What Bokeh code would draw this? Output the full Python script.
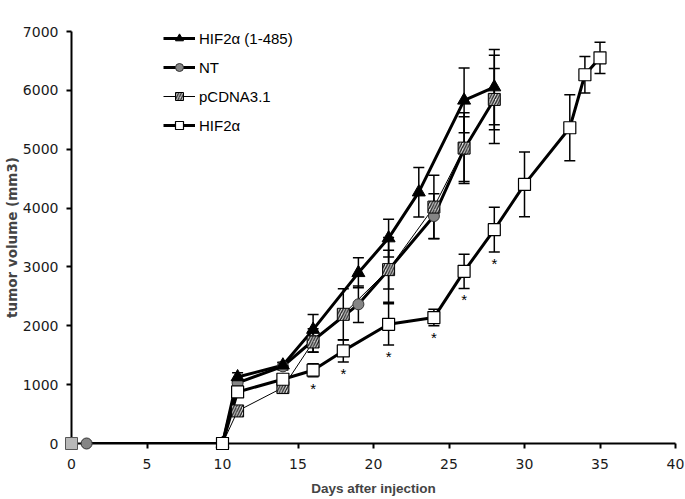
from bokeh.plotting import figure
from bokeh.models import (Range1d, FixedTicker, Whisker, TeeHead, ColumnDataSource,
                          Legend, LegendItem)
from bokeh.core.properties import value
from bokeh.embed import file_html
from bokeh.resources import INLINE

# ---- data ----
hif485_days = [10, 11, 14, 16, 19, 21, 23, 26, 28]
hif485_vol = [0, 1130, 1330, 1935, 2900, 3490, 4270, 5830, 6055]
hif485_err = [0, 70, 50, 255, 255, 320, 420, 550, 640]

nt_days = [1, 10, 11, 14, 16, 19, 21, 24, 26, 28]
nt_vol = [0, 0, 1030, 1310, 1750, 2365, 2950, 3864, 5000, 5850]
nt_err = [0, 0, 60, 60, 200, 310, 550, 380, 550, 520]

pcdna_days = [10, 11, 14, 16, 18, 21, 24, 26, 28]
pcdna_vol = [0, 553, 950, 1725, 2195, 2954, 4017, 5019, 5846]
pcdna_err = [0, 60, 95, 170, 435, 330, 540, 600, 750]

hif_days = [10, 11, 14, 16, 18, 21, 24, 26, 28, 30, 33, 34, 35]
hif_vol = [0, 876, 1092, 1245, 1573, 2025, 2139, 2925, 3633, 4402, 5365, 6265, 6553]
hif_err = [0, 0, 60, 110, 190, 350, 140, 290, 380, 550, 560, 310, 265]

star_days = [16, 18, 21, 24, 26, 28]

origin_days = [0]
origin_vol = [0]

x_ticks = [0, 5, 10, 15, 20, 25, 30, 35, 40]
y_ticks = [0, 1000, 2000, 3000, 4000, 5000, 6000, 7000]

# ---- figure ----
p = figure(width=685, height=499, output_backend="svg", toolbar_location=None,
           x_range=Range1d(0, 40), y_range=Range1d(0, 7000),
           min_border_left=71, min_border_right=10, min_border_top=31, min_border_bottom=56)
p.outline_line_color = None
p.grid.visible = False
p.background_fill_color = "white"
p.border_fill_color = "white"

for ax in (p.xaxis[0], p.yaxis[0]):
    ax.axis_line_width = 2
    ax.axis_line_color = "black"
    ax.major_tick_line_width = 2
    ax.major_tick_line_color = "black"
    ax.major_tick_out = 5
    ax.major_tick_in = 0
    ax.minor_tick_line_color = None
    ax.major_label_text_font = "DejaVu Sans"
    ax.major_label_text_font_size = "14px"
    ax.major_label_text_color = "#1a1a1a"

p.xaxis[0].major_label_standoff = 10
p.yaxis[0].major_label_standoff = 8
p.xaxis[0].ticker = FixedTicker(ticks=x_ticks)
p.yaxis[0].ticker = FixedTicker(ticks=y_ticks)
p.xaxis[0].axis_label = "Days after injection"
p.xaxis[0].axis_label_text_font = "Liberation Sans"
p.xaxis[0].axis_label_text_font_style = "bold"
p.xaxis[0].axis_label_text_font_size = "13.5px"
p.xaxis[0].axis_label_standoff = 9
p.yaxis[0].axis_label = "tumor volume (mm3)"
p.yaxis[0].axis_label_text_font = "DejaVu Sans"
p.yaxis[0].axis_label_text_font_style = "bold"
p.yaxis[0].axis_label_text_font_size = "13.5px"
p.yaxis[0].axis_label_standoff = 0


def add_series(days, vol, err, lw, marker, size, **mk):
    src = ColumnDataSource(dict(x=days, y=vol))
    wx = [d for d, e in zip(days, err) if e > 0]
    wu = [v + e for v, e in zip(vol, err) if e > 0]
    wl = [v - e for v, e in zip(vol, err) if e > 0]
    wsrc = ColumnDataSource(dict(x=wx, upper=wu, lower=wl))
    p.add_layout(Whisker(source=wsrc, base="x", upper="upper", lower="lower",
                         dimension="height", line_width=1.5, line_color="black",
                         upper_head=TeeHead(size=11, line_width=1.5, line_color="black"),
                         lower_head=TeeHead(size=11, line_width=1.5, line_color="black")))
    ln = p.line("x", "y", source=src, line_width=lw, line_color="black")
    sc = p.scatter("x", "y", source=src, marker=marker, size=size, level="overlay", **mk)
    return ln, sc


l_nt, m_nt = add_series(nt_days, nt_vol, nt_err, 3, "circle", 11,
                        fill_color="#858585", line_color="#333333", line_width=1)
l_pc, m_pc = add_series(pcdna_days, pcdna_vol, pcdna_err, 1, "square", 12,
                        fill_color="#e4e4e4", line_color="black", line_width=1,
                        hatch_pattern="/", hatch_color="#222222", hatch_scale=5.5, hatch_weight=1.4)
l_485, m_485 = add_series(hif485_days, hif485_vol, hif485_err, 3, "triangle", 13,
                          fill_color="black", line_color="black", line_width=1)
l_hif, m_hif = add_series(hif_days, hif_vol, hif_err, 3, "square", 12,
                          fill_color="white", line_color="black", line_width=1.2)

p.scatter(origin_days, origin_vol, marker="square", size=12, fill_color="#b8b8b8",
          line_color="#555555", line_width=1, level="overlay")

# asterisks below HIF2α error bars
star_y = [hif_vol[hif_days.index(d)] - hif_err[hif_days.index(d)] for d in star_days]
p.text(x=star_days, y=star_y, text=["*"] * len(star_days), text_align="center",
       text_baseline="top", text_font=value("Liberation Sans"), text_font_size="15px",
       text_color="black", y_offset=3)

legend = Legend(items=[
    LegendItem(label="HIF2α (1-485)", renderers=[l_485, m_485]),
    LegendItem(label="NT", renderers=[l_nt, m_nt]),
    LegendItem(label="pCDNA3.1", renderers=[l_pc, m_pc]),
    LegendItem(label="HIF2α", renderers=[l_hif, m_hif]),
], location=(92, 308), glyph_width=32, glyph_height=20, label_height=20,
    spacing=9, padding=0, margin=0, label_standoff=4,
    border_line_color=None, background_fill_alpha=0,
    label_text_font="Liberation Sans", label_text_font_size="15px",
    label_text_color="black")
p.add_layout(legend)

open("out.html", "w").write(file_html(p, INLINE))
